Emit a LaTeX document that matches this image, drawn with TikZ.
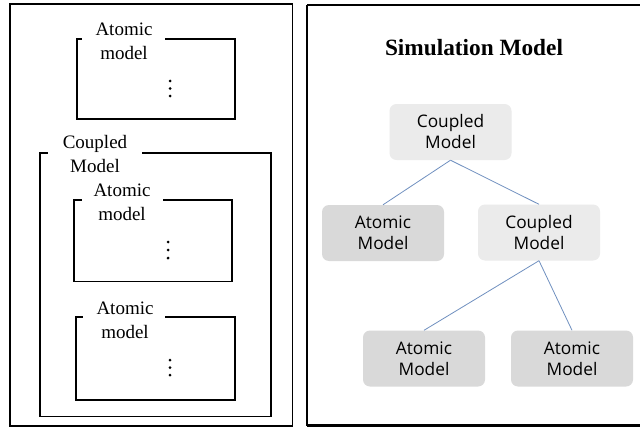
\documentclass[tikz,border=0pt]{standalone}
\usepackage{fontspec}
\setmainfont{Liberation Serif}
\newfontfamily\boxfont{Open Sans}
\definecolor{linkcol}{RGB}{112,144,192}
\begin{document}
\begin{tikzpicture}[x=1pt,y=-1pt,
  frame/.style={draw=black,line width=1.6pt},
  outerframe/.style={draw=black,line width=1.1pt},
  mainframe/.style={draw=black,line width=2.8pt},
  lbl/.style={font=\fontsize{19}{24}\selectfont,align=center,inner sep=0pt},
  title/.style={font=\fontsize{23.3}{27}\selectfont\bfseries,inner sep=0pt},
  tnode/.style={rounded corners=7pt,minimum width=122pt,minimum height=56pt,inner sep=0pt,align=center,font=\boxfont\fontsize{17.3}{21}\selectfont},
  coupled/.style={tnode,fill=black!8},
  atomic/.style={tnode,fill=black!15},
  link/.style={draw=linkcol,line width=0.8pt},
  dot/.style={fill=black,draw=none}
]
\useasboundingbox (0,0) rectangle (640,428);
\fill[white] (0,0) rectangle (640,428);
% left panel
\draw[outerframe] (10,4) rectangle (292.5,426);
% atomic box 1
\draw[frame] (165,39) -- (235,39) -- (235,119) -- (77,119) -- (77,39) -- (82,39);
\node[lbl] (a1) at (124,41) {Atomic\\model};
\foreach \yy in {81,88.5,96} \fill[dot] (170,\yy) circle (1.5);
% coupled box
\draw[frame] (142,153) -- (271,153) -- (271,416.5) -- (40,416.5) -- (40,153) -- (48,153);
\node[lbl] (c1) at (95,154) {Coupled\\Model};
% atomic box 2
\draw[frame] (163,200) -- (232,200) -- (232,281.5) -- (74,281.5) -- (74,200) -- (82,200);
\node[lbl] (a2) at (122,202) {Atomic\\model};
\foreach \yy in {242,250,258} \fill[dot] (168,\yy) circle (1.5);
% atomic box 3
\draw[frame] (165,317) -- (235,317) -- (235,400) -- (76,400) -- (76,317) -- (83,317);
\node[lbl] (a3) at (125,320) {Atomic\\model};
\foreach \yy in {360,367.5,375} \fill[dot] (170,\yy) circle (1.5);
% right panel
\draw[mainframe] (307,5) -- (645,5) (307,425.5) -- (645,425.5) (307,5) -- (307,425.5);
\node[title] (t) at (474,48) {Simulation Model};
\node[coupled] (top) at (450.5,132) {Coupled\\Model};
\node[atomic] (al) at (383,233) {Atomic\\Model};
\node[coupled] (cm) at (539,232.5) {Coupled\\Model};
\node[atomic] (bl) at (424,358.5) {Atomic\\Model};
\node[atomic] (br) at (572,358.5) {Atomic\\Model};
\draw[link] (top.south) -- (al.north);
\draw[link] (top.south) -- (cm.north);
\draw[link] (cm.south) -- (bl.north);
\draw[link] (cm.south) -- (br.north);
\end{tikzpicture}
\end{document}
